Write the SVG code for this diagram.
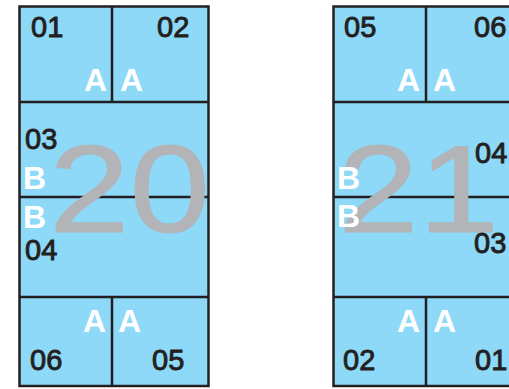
<svg xmlns="http://www.w3.org/2000/svg" width="509" height="389" viewBox="0 0 509 389">
<style>
.bg{fill:#8ED8F8;stroke:none}
.ln{stroke:#231F20;stroke-width:2.5;fill:none}
.num{font-family:"Liberation Sans",Arial,sans-serif;font-size:29px;fill:#231F20;stroke:#231F20;stroke-width:0.9}
.lt{font-family:"Liberation Sans",Arial,sans-serif;font-size:32px;font-weight:bold;fill:#FFFFFF}
.big{font-family:"Liberation Sans",Arial,sans-serif;font-size:124px;fill:#B2B4B7;stroke:#B2B4B7;stroke-width:1}
</style>
<rect width="509" height="389" fill="#FFFFFF"/>
<g id="panel-20">
<rect class="bg" x="19" y="6" width="190" height="380"/>
</g>
<g id="panel-21">
<rect class="bg" x="333" y="6" width="190" height="380"/>
</g>
<g id="connectors">
<rect class="ln" x="19.5" y="6.5" width="189" height="379.5"/>
<line class="ln" x1="19" y1="102" x2="209" y2="102"/>
<line class="ln" x1="19" y1="197" x2="209" y2="197"/>
<line class="ln" x1="19" y1="297" x2="209" y2="297"/>
<line class="ln" x1="112" y1="6" x2="112" y2="102"/>
<line class="ln" x1="112" y1="297" x2="112" y2="386"/>
<rect class="ln" x="333.5" y="6.5" width="189" height="379.5"/>
<line class="ln" x1="333" y1="102" x2="523" y2="102"/>
<line class="ln" x1="333" y1="197" x2="523" y2="197"/>
<line class="ln" x1="333" y1="297" x2="523" y2="297"/>
<line class="ln" x1="426" y1="6" x2="426" y2="102"/>
<line class="ln" x1="426" y1="297" x2="426" y2="386"/>
</g>
<g id="big-20"><text class="big" x="49" y="232" textLength="161" lengthAdjust="spacingAndGlyphs">20</text></g>
<g id="big-21"><text class="big" x="338" y="232" textLength="161" lengthAdjust="spacingAndGlyphs">21</text></g>
<g id="cell-20-01"><text class="num" x="31" y="37">01</text><text class="lt" x="84" y="91">A</text></g>
<g id="cell-20-02"><text class="num" x="157" y="37">02</text><text class="lt" x="120" y="91">A</text></g>
<g id="cell-20-03"><text class="num" x="25" y="149">03</text><text class="lt" x="23" y="189">B</text></g>
<g id="cell-20-04"><text class="lt" x="23" y="228">B</text><text class="num" x="25" y="260">04</text></g>
<g id="cell-20-06"><text class="lt" x="83" y="332">A</text><text class="num" x="30" y="370">06</text></g>
<g id="cell-20-05"><text class="lt" x="118" y="332">A</text><text class="num" x="152" y="370">05</text></g>
<g id="cell-21-05"><text class="num" x="344" y="37">05</text><text class="lt" x="397" y="91">A</text></g>
<g id="cell-21-06"><text class="num" x="474" y="37">06</text><text class="lt" x="433" y="91">A</text></g>
<g id="cell-21-04"><text class="lt" x="337" y="189">B</text><text class="num" x="475" y="163">04</text></g>
<g id="cell-21-03"><text class="lt" x="337" y="227">B</text><text class="num" x="474" y="253">03</text></g>
<g id="cell-21-02"><text class="lt" x="397" y="332">A</text><text class="num" x="343" y="370">02</text></g>
<g id="cell-21-01"><text class="lt" x="433" y="332">A</text><text class="num" x="475" y="370">01</text></g>
</svg>
